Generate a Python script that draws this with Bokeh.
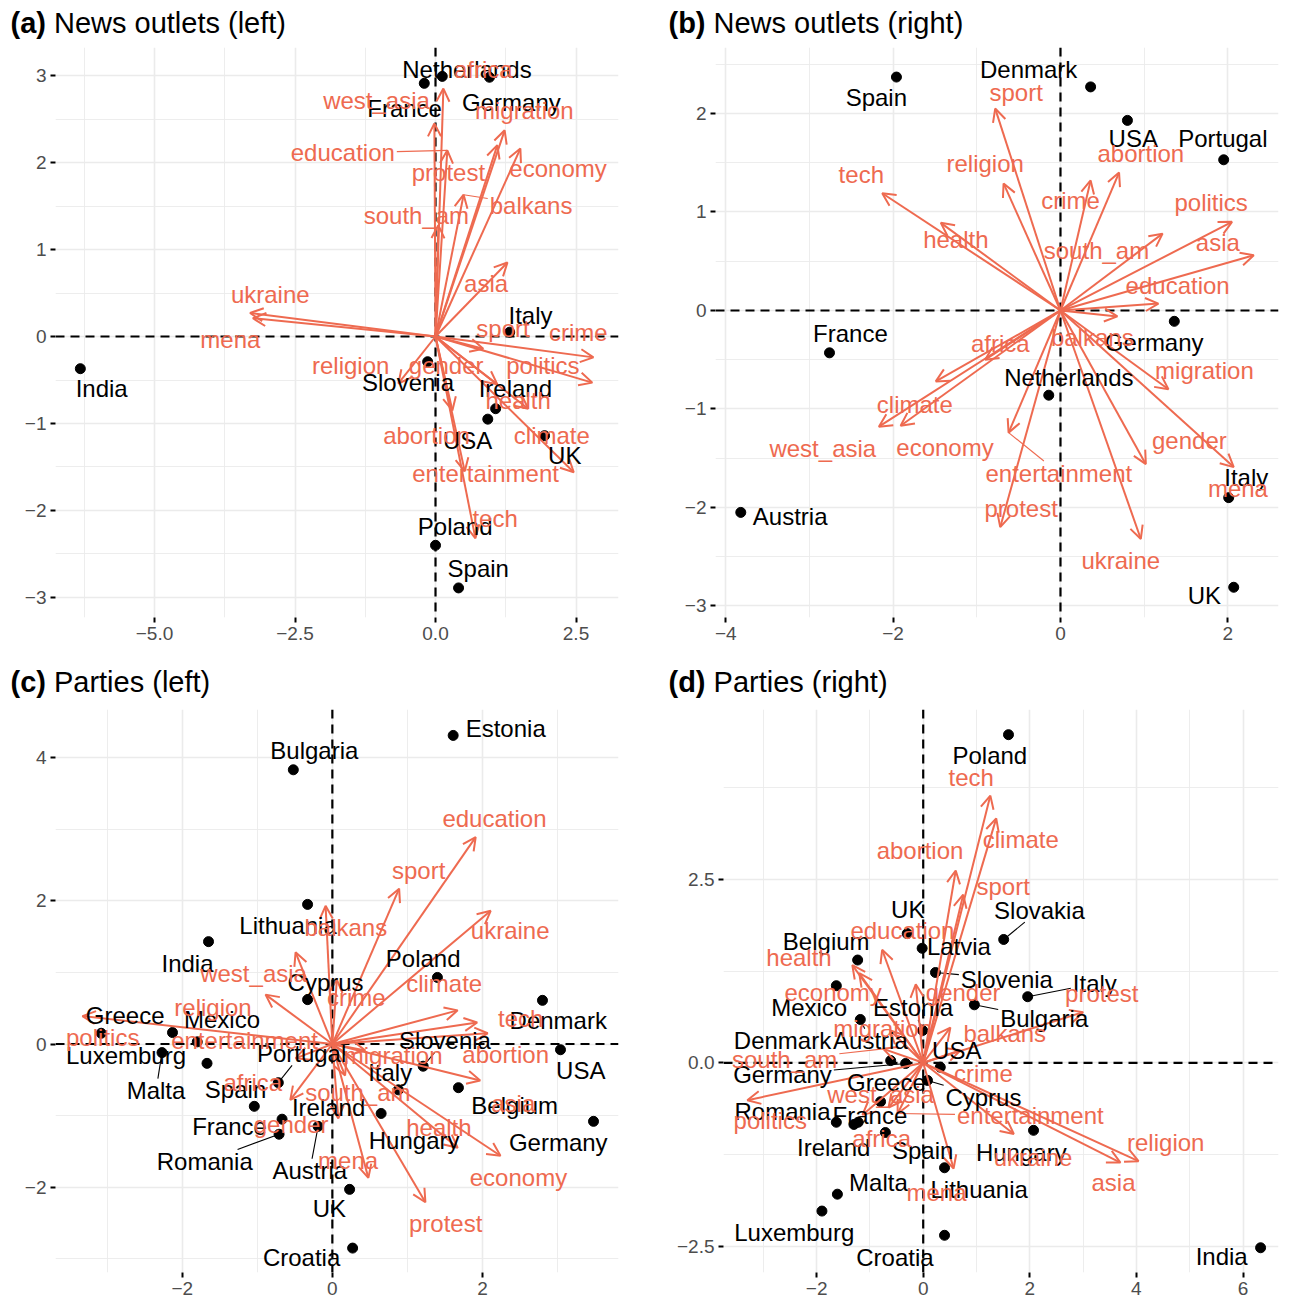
from bokeh.plotting import figure
from bokeh.layouts import column, row
from bokeh.models import (ColumnDataSource, Arrow, OpenHead, Span, Range1d,
                          FixedTicker, CustomJSTickFormatter)
from bokeh.core.properties import value
from bokeh.embed import file_html
from bokeh.resources import INLINE

TOPICS = ["abortion", "africa", "asia", "balkans", "climate", "crime", "economy",
          "education", "entertainment", "gender", "health", "mena", "migration",
          "politics", "protest", "religion", "south_am", "sport", "tech", "ukraine",
          "west_asia"]

# ---------------- (a) News outlets (left) ----------------
a_countries = ["India", "Netherlands", "France", "Germany", "Italy", "Slovenia",
               "Ireland", "USA", "UK", "Poland", "Spain"]
a_dim1 = [-6.32, 0.12, -0.20, 0.96, 1.32, -0.14, 1.07, 0.93, 1.94, 0.00, 0.41]
a_dim2 = [-0.37, 2.99, 2.91, 2.98, 0.05, -0.29, -0.83, -0.95, -1.14, -2.40, -2.89]
a_load1 = [0.30, 0.14, 1.28, 0.50, 2.46, 2.81, 1.51, 0.21, 0.52, 1.10, 1.65,
           -3.25, 1.23, 2.79, 1.10, -0.66, 0.05, 0.85, 0.71, -3.30, -0.02]
a_load2 = [-0.85, 2.85, 0.85, 1.63, -1.56, -0.24, 2.16, 2.14, -1.55, -0.55, -0.83,
           0.21, 2.37, -0.53, 2.20, -0.54, 1.28, -0.14, -2.32, 0.27, 2.45]

# ---------------- (b) News outlets (right) ----------------
b_countries = ["Spain", "Denmark", "USA", "Portugal", "France", "Germany",
               "Netherlands", "Austria", "Italy", "UK"]
b_dim1 = [-1.96, 0.36, 0.80, 1.95, -2.76, 1.36, -0.14, -3.82, 2.01, 2.07]
b_dim2 = [2.37, 2.27, 1.93, 1.53, -0.43, -0.11, -0.86, -2.05, -1.90, -2.81]
b_load1 = [0.70, -0.90, 2.31, 0.68, -1.49, 0.36, -1.91, 1.17, -0.62, 1.02, -1.43,
           2.07, 1.29, 2.05, -0.72, -0.68, 1.22, -0.78, -2.13, 0.96, -2.17]
b_load2 = [1.40, -0.50, 0.56, -0.06, -0.72, 1.32, -1.17, 0.07, -1.24, -1.56, 0.89,
           -1.59, -0.80, 0.90, -2.20, 1.29, 0.78, 2.05, 1.19, -2.32, -1.18]

# ---------------- (c) Parties (left) ----------------
c_countries = ["Bulgaria", "Estonia", "Lithuania", "India", "Cyprus", "Poland",
               "Denmark", "Greece", "Luxemburg", "Mexico", "Malta", "Spain", "USA",
               "Slovenia", "Portugal", "Italy", "Belgium", "France", "Ireland",
               "Romania", "Austria", "Hungary", "Germany", "UK", "Croatia"]
c_dim1 = [-0.52, 1.61, -0.33, -1.65, -0.33, 1.40, 2.80, -2.13, -3.08, -1.80, -2.27,
          -1.67, 3.04, 1.21, -0.72, 0.88, 1.68, -1.04, -0.67, -0.71, -0.19, 0.65,
          3.48, 0.23, 0.27]
c_dim2 = [3.83, 4.31, 1.95, 1.43, 0.62, 0.93, 0.61, 0.16, 0.15, 0.03, -0.12,
          -0.27, -0.08, -0.31, -0.54, -0.64, -0.61, -0.87, -1.05, -1.26, -1.15,
          -0.97, -1.08, -2.03, -2.85]
c_load1 = [2.07, -0.56, 1.97, -0.09, 1.67, 0.06, 2.24, 1.91, -0.49, 0.08, 1.67,
           0.48, 0.44, -3.33, 1.24, -0.89, 0.17, 0.89, 1.93, 2.11, -0.49]
c_load2 = [0.15, -0.78, -0.51, 1.93, 0.47, 0.90, -1.56, 2.89, -0.20, -1.04, -1.45,
           -1.87, -0.09, 0.39, -2.21, 0.69, -0.44, 2.17, 0.30, 1.86, 1.28]

# ---------------- (d) Parties (right) ----------------
d_countries = ["Poland", "UK", "Latvia", "Slovakia", "Belgium", "Slovenia", "Mexico",
               "Italy", "Bulgaria", "Austria", "Estonia", "Denmark", "Germany", "USA",
               "Cyprus", "Greece", "Romania", "France", "Ireland", "Spain", "Hungary",
               "Lithuania", "Malta", "Luxemburg", "Croatia", "India"]
d_dim1 = [1.60, -0.30, -0.02, 1.51, -1.23, 0.23, -1.63, 1.96, 0.96, -1.18, -0.01,
          -0.61, -0.33, 0.32, 0.08, -0.80, -1.63, -1.22, -1.30, -0.71, 2.07, 0.40,
          -1.61, -1.90, 0.40, 6.33]
d_dim2 = [4.47, 1.76, 1.56, 1.68, 1.40, 1.23, 1.05, 0.90, 0.79, 0.59, 0.44, 0.03,
          -0.01, -0.06, -0.24, -0.53, -0.81, -0.81, -0.84, -0.95, -0.92, -1.43,
          -1.79, -2.02, -2.35, -2.52]
d_load1 = [0.61, -1.14, 3.70, 0.51, 1.37, 0.70, -1.20, -0.77, -0.48, -0.14, -1.33,
           0.57, -0.62, -3.30, 3.00, 4.04, -0.75, 0.75, 1.26, 1.70, -0.65]
d_load2 = [2.62, -0.71, -1.36, 0.48, 3.33, 0.17, 1.22, 1.54, -0.69, 1.07, 1.33,
           -1.44, 0.44, -0.51, 0.69, -1.34, 0.19, 2.29, 3.64, -0.97, -0.61]

# ---------------- repelled label placement (layout) ----------------
a_name_at = {"India": (-5.94, -0.60), "Netherlands": (0.56, 3.07), "France": (-0.55, 2.62),
             "Germany": (1.35, 2.69), "Italy": (1.69, 0.24), "Slovenia": (-0.49, -0.53),
             "Ireland": (1.42, -0.60), "USA": (0.57, -1.20), "UK": (2.30, -1.37),
             "Poland": (0.35, -2.18), "Spain": (0.76, -2.67)}
a_topic_at = {"abortion": (-0.16, -1.14), "africa": (0.85, 3.07), "asia": (0.90, 0.61),
              "balkans": (1.70, 1.51), "climate": (2.07, -1.14), "crime": (2.54, 0.05),
              "economy": (2.18, 1.93), "education": (-1.65, 2.11),
              "entertainment": (0.89, -1.57), "gender": (0.19, -0.33),
              "health": (1.47, -0.74), "mena": (-3.65, -0.03), "migration": (1.58, 2.60),
              "politics": (1.91, -0.33), "protest": (0.23, 1.89), "religion": (-1.51, -0.33),
              "south_am": (-0.34, 1.39), "sport": (1.20, 0.09), "tech": (1.06, -2.09),
              "ukraine": (-2.94, 0.48), "west_asia": (-1.05, 2.71)}
a_leaders = ["education", "balkans", "south_am"]

b_name_at = {"Spain": (-2.20, 2.16), "Denmark": (-0.38, 2.45), "USA": (0.87, 1.75),
             "Portugal": (1.94, 1.75), "France": (-2.51, -0.23), "Germany": (1.12, -0.32),
             "Netherlands": (0.10, -0.68), "Austria": (-3.23, -2.09), "Italy": (2.22, -1.70),
             "UK": (1.72, -2.89)}
b_topic_at = {"abortion": (0.96, 1.59), "africa": (-0.72, -0.34), "asia": (1.88, 0.69),
              "balkans": (0.38, -0.27), "climate": (-1.74, -0.95), "crime": (0.12, 1.12),
              "economy": (-1.38, -1.39), "education": (1.40, 0.25),
              "entertainment": (-0.02, -1.65), "gender": (1.54, -1.32),
              "health": (-1.25, 0.72), "mena": (2.12, -1.81), "migration": (1.72, -0.61),
              "politics": (1.80, 1.10), "protest": (-0.47, -2.01), "religion": (-0.90, 1.49),
              "south_am": (0.43, 0.61), "sport": (-0.53, 2.21), "tech": (-2.38, 1.38),
              "ukraine": (0.72, -2.54), "west_asia": (-2.84, -1.40)}
b_leaders = ["entertainment"]

c_name_at = {"Bulgaria": (-0.24, 4.10), "Estonia": (2.31, 4.41), "Lithuania": (-0.59, 1.65),
             "India": (-1.93, 1.12), "Cyprus": (-0.09, 0.86), "Poland": (1.21, 1.19),
             "Denmark": (3.01, 0.33), "Greece": (-2.76, 0.40), "Luxemburg": (-2.75, -0.16),
             "Mexico": (-1.47, 0.34), "Malta": (-2.35, -0.65), "Spain": (-1.29, -0.64),
             "USA": (3.31, -0.37), "Slovenia": (1.50, 0.05), "Portugal": (-0.41, -0.13),
             "Italy": (0.77, -0.40), "Belgium": (2.43, -0.86), "France": (-1.37, -1.15),
             "Ireland": (-0.05, -0.89), "Romania": (-1.70, -1.64), "Austria": (-0.30, -1.77),
             "Hungary": (1.09, -1.35), "Germany": (3.01, -1.38), "UK": (-0.04, -2.30),
             "Croatia": (-0.41, -2.98)}
c_topic_at = {"abortion": (2.31, -0.14), "africa": (-1.06, -0.54), "asia": (2.41, -0.83),
              "balkans": (0.18, 1.63), "climate": (1.49, 0.84), "crime": (0.32, 0.65),
              "economy": (2.48, -1.87), "education": (2.16, 3.15),
              "entertainment": (-1.17, 0.05), "gender": (-0.55, -1.13),
              "health": (1.42, -1.17), "mena": (0.21, -1.63), "migration": (0.81, -0.16),
              "politics": (-3.06, 0.09), "protest": (1.51, -2.51), "religion": (-1.59, 0.51),
              "south_am": (0.34, -0.68), "sport": (1.15, 2.42), "tech": (2.51, 0.36),
              "ukraine": (2.37, 1.59), "west_asia": (-1.05, 0.98)}
c_leaders = ["Malta", "Portugal", "Romania", "Austria", "Slovenia"]

d_name_at = {"Poland": (1.25, 4.19), "UK": (-0.29, 2.09), "Latvia": (0.67, 1.59),
             "Slovakia": (2.18, 2.08), "Belgium": (-1.82, 1.65), "Slovenia": (1.57, 1.14),
             "Mexico": (-2.14, 0.75), "Italy": (3.22, 1.08), "Bulgaria": (2.27, 0.60),
             "Austria": (-0.99, 0.30), "Estonia": (-0.19, 0.75), "Denmark": (-2.64, 0.30),
             "Germany": (-2.64, -0.16), "USA": (0.63, 0.17), "Cyprus": (1.13, -0.47),
             "Greece": (-0.69, -0.27), "Romania": (-2.64, -0.66), "France": (-1.00, -0.72),
             "Ireland": (-1.68, -1.16), "Spain": (-0.01, -1.20), "Hungary": (1.84, -1.22),
             "Lithuania": (1.05, -1.73), "Malta": (-0.84, -1.63), "Luxemburg": (-2.42, -2.31),
             "Croatia": (-0.53, -2.65), "India": (5.60, -2.64)}
d_topic_at = {"abortion": (-0.06, 2.89), "africa": (-0.78, -1.03), "asia": (3.57, -1.63),
              "balkans": (1.53, 0.40), "climate": (1.83, 3.04), "crime": (1.13, -0.15),
              "economy": (-1.69, 0.96), "education": (-0.39, 1.80),
              "entertainment": (2.01, -0.72), "gender": (0.75, 0.96),
              "health": (-2.33, 1.43), "mena": (0.25, -1.77), "migration": (-0.76, 0.47),
              "politics": (-2.87, -0.79), "protest": (3.35, 0.94), "religion": (4.55, -1.09),
              "south_am": (-2.60, 0.04), "sport": (1.50, 2.40), "tech": (0.90, 3.89),
              "ukraine": (2.06, -1.29), "west_asia": (-0.80, -0.43)}
d_leaders = ["Slovakia", "Slovenia", "Italy", "Bulgaria", "Cyprus", "Germany",
             "Austria", "Estonia", "south_am", "entertainment"]

# ---------------- styling ----------------
ORANGE = "#EE6A50"
GRID = "#EBEBEB"
FONT = "Liberation Sans"
LABEL_PX = 24
TITLE_PX = 29
HEAD_TOP = 42     # heading strip above the top row
HEAD_BOTTOM = 48  # heading strip above the bottom row

# Arial-compatible advance widths (per 1000 em), for leader-line clipping
AW = {'a': 556, 'b': 556, 'c': 500, 'd': 556, 'e': 556, 'f': 278, 'g': 556, 'h': 556,
      'i': 222, 'j': 222, 'k': 500, 'l': 222, 'm': 833, 'n': 556, 'o': 556, 'p': 556,
      'q': 556, 'r': 333, 's': 500, 't': 278, 'u': 556, 'v': 500, 'w': 722, 'x': 500,
      'y': 500, 'z': 500, '_': 556, ' ': 278, 'A': 667, 'B': 667, 'C': 722, 'D': 722,
      'E': 667, 'F': 611, 'G': 778, 'H': 722, 'I': 278, 'K': 667, 'L': 556, 'M': 833,
      'N': 722, 'P': 667, 'R': 722, 'S': 667, 'U': 722}


def text_width(s, size):
    return sum(AW.get(ch, 556) for ch in s) * size / 1000.0


def tick_fmt(dec):
    return CustomJSTickFormatter(
        code="const s = Math.abs(tick).toFixed(%d); return (tick < -1e-9 ? '\u2212' : '') + s;" % dec)


def clip_to_box(px, py, lx, ly, label, sx, sy):
    """End point of a leader from (px, py) to the edge of the label box at (lx, ly)."""
    dx = (px - lx) * sx
    dy = (py - ly) * sy
    hw = text_width(label, LABEL_PX) / 2 + 2
    hh = LABEL_PX / 2
    if abs(dx) <= hw and abs(dy) <= hh:
        return None
    t = min(hw / abs(dx) if dx else 1e9, hh / abs(dy) if dy else 1e9)
    return lx + t * dx / sx, ly + t * dy / sy


def heading(tag, title, x_left, cy, height, width=646):
    """Panel heading strip: bold tag followed by the plain title."""
    h = figure(width=width, height=height, x_range=Range1d(0, width),
               y_range=Range1d(0, height), output_backend="svg", toolbar_location=None,
               x_axis_location=None, y_axis_location=None, min_border=0,
               background_fill_color="white", border_fill_color="white")
    h.grid.visible = False
    h.outline_line_color = None
    bold_w = {"(a)": 1222, "(b)": 1277, "(c)": 1222, "(d)": 1277}[tag] * TITLE_PX / 1000.0
    h.text(x=[x_left], y=[height - cy], text=[tag], text_font=value(FONT),
           text_font_style="bold", text_font_size="%dpx" % TITLE_PX,
           text_baseline="middle", text_align="left", text_color="black")
    h.text(x=[x_left + bold_w + 8], y=[height - cy], text=[title], text_font=value(FONT),
           text_font_size="%dpx" % TITLE_PX, text_baseline="middle",
           text_align="left", text_color="black")
    return h


def make_panel(names, dim1, dim2, load1, load2, name_at, topic_at, leaders,
               xr, yr, xt, yt, xdec, ydec, width, height, left, right, top, bottom):
    p = figure(width=width, height=height, x_range=Range1d(*xr), y_range=Range1d(*yr),
               output_backend="svg", toolbar_location=None,
               min_border_left=left, min_border_right=right,
               min_border_top=top, min_border_bottom=bottom,
               background_fill_color="white", border_fill_color="white")
    p.outline_line_color = None
    fw = width - left - right
    fh = height - top - bottom
    sx = fw / (xr[1] - xr[0])
    sy = fh / (yr[1] - yr[0])

    p.xaxis.ticker = FixedTicker(ticks=xt[0], minor_ticks=xt[1])
    p.yaxis.ticker = FixedTicker(ticks=yt[0], minor_ticks=yt[1])
    p.xaxis.formatter = tick_fmt(xdec)
    p.yaxis.formatter = tick_fmt(ydec)
    for ax in (p.xaxis[0], p.yaxis[0]):
        ax.axis_line_color = None
        ax.major_tick_line_color = "black"
        ax.major_tick_line_width = 2
        ax.major_tick_out = 5
        ax.major_tick_in = 0
        ax.minor_tick_line_color = None
        ax.major_label_text_color = "#4D4D4D"
        ax.major_label_text_font = FONT
        ax.major_label_text_font_size = "19px"
        ax.major_label_standoff = 4
    p.grid.grid_line_color = GRID
    p.grid.grid_line_width = 1.6
    p.grid.minor_grid_line_color = GRID
    p.grid.minor_grid_line_width = 0.9

    for dim in ("width", "height"):
        p.add_layout(Span(location=0, dimension=dim, line_color="black",
                          line_width=2.2, line_dash="9 6", level="underlay"))

    # country scores
    p.scatter(dim1, dim2, size=10, color="black")

    # topic loadings as arrows from the origin
    n = len(TOPICS)
    src = ColumnDataSource(dict(x0=[0.0] * n, y0=[0.0] * n, x1=load1, y1=load2))
    p.add_layout(Arrow(end=OpenHead(size=13, line_color=ORANGE, line_width=2),
                       x_start="x0", y_start="y0", x_end="x1", y_end="y1",
                       source=src, line_color=ORANGE, line_width=2))

    # leader segments for displaced labels
    pos = {nm: (x, y) for nm, x, y in zip(names, dim1, dim2)}
    tips = {t: (x, y) for t, x, y in zip(TOPICS, load1, load2)}
    segs = dict(x0=[], y0=[], x1=[], y1=[], c=[])
    for key in leaders:
        if key in pos:
            (px, py), (lx, ly), col = pos[key], name_at[key], "black"
        else:
            (px, py), (lx, ly), col = tips[key], topic_at[key], ORANGE
        end = clip_to_box(px, py, lx, ly, key, sx, sy)
        if end is None:
            continue
        segs["x0"].append(px); segs["y0"].append(py)
        segs["x1"].append(end[0]); segs["y1"].append(end[1]); segs["c"].append(col)
    p.segment("x0", "y0", "x1", "y1", source=ColumnDataSource(segs),
              line_color="c", line_width=1.1)

    # labels
    p.text(x=[name_at[k][0] for k in names], y=[name_at[k][1] for k in names], text=names,
           text_color="black", text_font=value(FONT), text_font_size="%dpx" % LABEL_PX,
           text_align="center", text_baseline="middle", level="overlay")
    p.text(x=[topic_at[k][0] for k in TOPICS], y=[topic_at[k][1] for k in TOPICS],
           text=TOPICS, text_color=ORANGE, text_font=value(FONT),
           text_font_size="%dpx" % LABEL_PX, text_align="center",
           text_baseline="middle", level="overlay")
    return p


pa = make_panel(a_countries, a_dim1, a_dim2, a_load1, a_load2,
                a_name_at, a_topic_at, a_leaders,
                (-6.762, 3.256), (-3.230, 3.322),
                ([-5, -2.5, 0, 2.5], [-6.25, -3.75, -1.25, 1.25]),
                ([-3, -2, -1, 0, 1, 2, 3], [-2.5, -1.5, -0.5, 0.5, 1.5, 2.5]),
                1, 0, 646, 655 - HEAD_TOP, 55, 28, 47 - HEAD_TOP, 38)
pb = make_panel(b_countries, b_dim1, b_dim2, b_load1, b_load2,
                b_name_at, b_topic_at, b_leaders,
                (-4.122, 2.605), (-3.117, 2.670),
                ([-4, -2, 0, 2], [-3, -1, 1]),
                ([-3, -2, -1, 0, 1, 2], [-2.5, -1.5, -0.5, 0.5, 1.5, 2.5]),
                0, 0, 646, 655 - HEAD_TOP, 69, 14, 47 - HEAD_TOP, 38)
pc = make_panel(c_countries, c_dim1, c_dim2, c_load1, c_load2,
                c_name_at, c_topic_at, c_leaders,
                (-3.689, 3.813), (-3.191, 4.672),
                ([-2, 0, 2], [-3, -1, 1, 3]),
                ([-2, 0, 2, 4], [-3, -1, 1, 3]),
                0, 0, 646, 647 - HEAD_BOTTOM, 55, 28, 54 - HEAD_BOTTOM, 30)
pd_ = make_panel(d_countries, d_dim1, d_dim2, d_load1, d_load2,
                 d_name_at, d_topic_at, d_leaders,
                 (-3.747, 6.666), (-2.857, 4.813),
                 ([-2, 0, 2, 4, 6], [-3, -1, 1, 3, 5]),
                 ([-2.5, 0, 2.5], [-1.25, 1.25, 3.75]),
                 0, 1, 646, 647 - HEAD_BOTTOM, 77, 14, 54 - HEAD_BOTTOM, 30)

ha = heading("(a)", "News outlets (left)", 10, 22, HEAD_TOP)
hb = heading("(b)", "News outlets (right)", 22, 22, HEAD_TOP)
hc = heading("(c)", "Parties (left)", 10, 26, HEAD_BOTTOM)
hd = heading("(d)", "Parties (right)", 22, 26, HEAD_BOTTOM)

layout = column(row(ha, hb), row(pa, pb), row(hc, hd), row(pc, pd_))
open("out.html", "w").write(file_html(layout, INLINE))
